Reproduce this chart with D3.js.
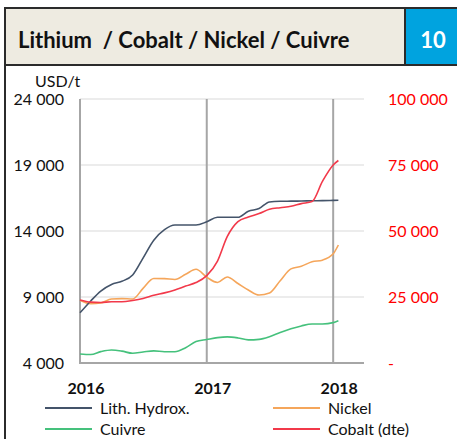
<!DOCTYPE html>
<html>
<head>
<meta charset="utf-8">
<script src="https://cdn.jsdelivr.net/npm/d3@7"></script>
<style>
  body { margin: 0; background: #fff; }
  svg { display: block; font-family: Lato, "Open Sans", sans-serif; }
</style>
</head>
<body>
<svg id="chart" width="457" height="439"></svg>
<script>
// monthly observations, last one mid-January 2018
const dates = ["2016-01-01", "2016-02-01", "2016-03-01", "2016-04-01", "2016-05-01", "2016-06-01",
  "2016-07-01", "2016-08-01", "2016-09-01", "2016-10-01", "2016-11-01", "2016-12-01",
  "2017-01-01", "2017-02-01", "2017-03-01", "2017-04-01", "2017-05-01", "2017-06-01",
  "2017-07-01", "2017-08-01", "2017-09-01", "2017-10-01", "2017-11-01", "2017-12-01",
  "2018-01-01", "2018-01-16"];

const lithium = [7800, 8700, 9450, 9950, 10190, 10670, 11950, 13300, 14100, 14450, 14450, 14450,
  14700, 15040, 15040, 15040, 15500, 15700, 16200, 16250, 16260, 16270, 16290, 16300, 16320, 16330];
const nickel = [8760, 8500, 8550, 8850, 8880, 8850, 9650, 10400, 10390, 10330, 10720, 11100,
  10500, 10100, 10520, 10020, 9530, 9150, 9300, 10230, 11130, 11330, 11670, 11790, 12270, 12940];
const cuivre = [4680, 4640, 4860, 4985, 4900, 4735, 4830, 4920, 4856, 4856, 5160, 5620,
  5775, 5920, 5980, 5900, 5750, 5790, 5990, 6310, 6590, 6810, 6955, 6955, 7060, 7200];
const cobalt = [23860, 23050, 22900, 23220, 23220, 23680, 24420, 25630, 26570, 27690, 29140, 30470,
  33100, 38600, 47850, 53560, 55300, 56600, 58200, 58830, 59360, 60370, 61180, 68800, 75000, 76700];

const leftTicks = [4000, 9000, 14000, 19000, 24000];
const rightTicks = [0, 25000, 50000, 75000, 100000];
const yearTicks = ["2016-01-01", "2017-01-01", "2018-01-01"];

const parse = d3.timeParse("%Y-%m-%d");
const svg = d3.select("#chart");

const x = d3.scaleTime()
  .domain([parse("2016-01-01"), parse("2018-03-31")])
  .range([80, 364]);
const yL = d3.scaleLinear().domain([4000, 24000]).range([363, 99]);
const yR = d3.scaleLinear().domain([0, 100000]).range([363, 99]);

const fmt = v => v === 0 ? "-" : d3.format(",")(v).replace(/,/g, " ");

// title band
svg.append("rect").attr("x", 5).attr("y", 8).attr("width", 400).attr("height", 57)
  .attr("fill", "#EEEBE1");
svg.append("rect").attr("x", 405).attr("y", 8).attr("width", 52).attr("height", 57)
  .attr("fill", "#00A3DF");
svg.append("path").attr("d", "M5,439V8H457M5,65H457M405,8V65")
  .attr("fill", "none").attr("stroke", "#2b2b2b").attr("stroke-width", 2);
svg.append("text").attr("x", 18).attr("y", 48)
  .attr("font-size", 22).attr("font-weight", "bold").attr("fill", "#111")
  .attr("xml:space", "preserve")
  .text("Lithium  / Cobalt / Nickel / Cuivre");
svg.append("text").attr("x", 433).attr("y", 48).attr("text-anchor", "middle")
  .attr("font-size", 22).attr("font-weight", "bold").attr("fill", "#fff").text("10");

svg.append("text").attr("x", 35).attr("y", 87).attr("font-size", 16).attr("fill", "#111")
  .text("USD/t");

// grid
svg.append("g").selectAll("line").data(leftTicks).join("line")
  .attr("x1", 80).attr("x2", 364)
  .attr("y1", d => yL(d)).attr("y2", d => yL(d))
  .attr("stroke", "#D9D9D9").attr("stroke-width", 1);
svg.append("g").selectAll("line").data(yearTicks.slice(1)).join("line")
  .attr("x1", d => x(parse(d))).attr("x2", d => x(parse(d)))
  .attr("y1", 99).attr("y2", 363)
  .attr("stroke", "#A6A6A6").attr("stroke-width", 2);
svg.append("path").attr("d", "M80,99V363H364")
  .attr("fill", "none").attr("stroke", "#A6A6A6").attr("stroke-width", 2);

// axis labels
svg.append("g").selectAll("text").data(leftTicks).join("text")
  .attr("x", 64).attr("y", d => yL(d) + 6).attr("text-anchor", "end")
  .attr("font-size", 16).attr("fill", "#111").text(fmt);
svg.append("g").selectAll("text").data(rightTicks).join("text")
  .attr("x", 388).attr("y", d => yR(d) + 6)
  .attr("font-size", 16).attr("fill", "#FF0000").text(fmt);
svg.append("g").selectAll("text").data(yearTicks).join("text")
  .attr("x", d => x(parse(d)) + 6).attr("y", 394).attr("text-anchor", "middle")
  .attr("font-size", 16).attr("font-weight", "bold").attr("fill", "#111")
  .text(d => d.slice(0, 4));

// series
const series = [
  { name: "Cuivre", values: cuivre, y: yL, color: "#45C17C" },
  { name: "Nickel", values: nickel, y: yL, color: "#F5A65B" },
  { name: "Lith. Hydrox.", values: lithium, y: yL, color: "#44546A" },
  { name: "Cobalt (dte)", values: cobalt, y: yR, color: "#F2394A" },
];

series.forEach(s => {
  const line = d3.line()
    .x((d, i) => x(parse(dates[i])))
    .y(d => s.y(d))
    .curve(d3.curveMonotoneX);
  svg.append("path").datum(s.values)
    .attr("d", line)
    .attr("fill", "none")
    .attr("stroke", s.color)
    .attr("stroke-width", 1.6);
});

// legend
const legend = [
  { name: "Lith. Hydrox.", color: "#44546A", lx: 45, ly: 408 },
  { name: "Nickel", color: "#F5A65B", lx: 273, ly: 408 },
  { name: "Cuivre", color: "#45C17C", lx: 45, ly: 429 },
  { name: "Cobalt (dte)", color: "#F2394A", lx: 273, ly: 429 },
];
const lg = svg.append("g").selectAll("g").data(legend).join("g")
  .attr("transform", d => `translate(${d.lx},${d.ly})`);
lg.append("line").attr("x1", 0).attr("x2", 47).attr("stroke", d => d.color).attr("stroke-width", 2);
lg.append("text").attr("x", 55).attr("y", 5.5).attr("font-size", 16).attr("fill", "#111")
  .text(d => d.name);
</script>
</body>
</html>
